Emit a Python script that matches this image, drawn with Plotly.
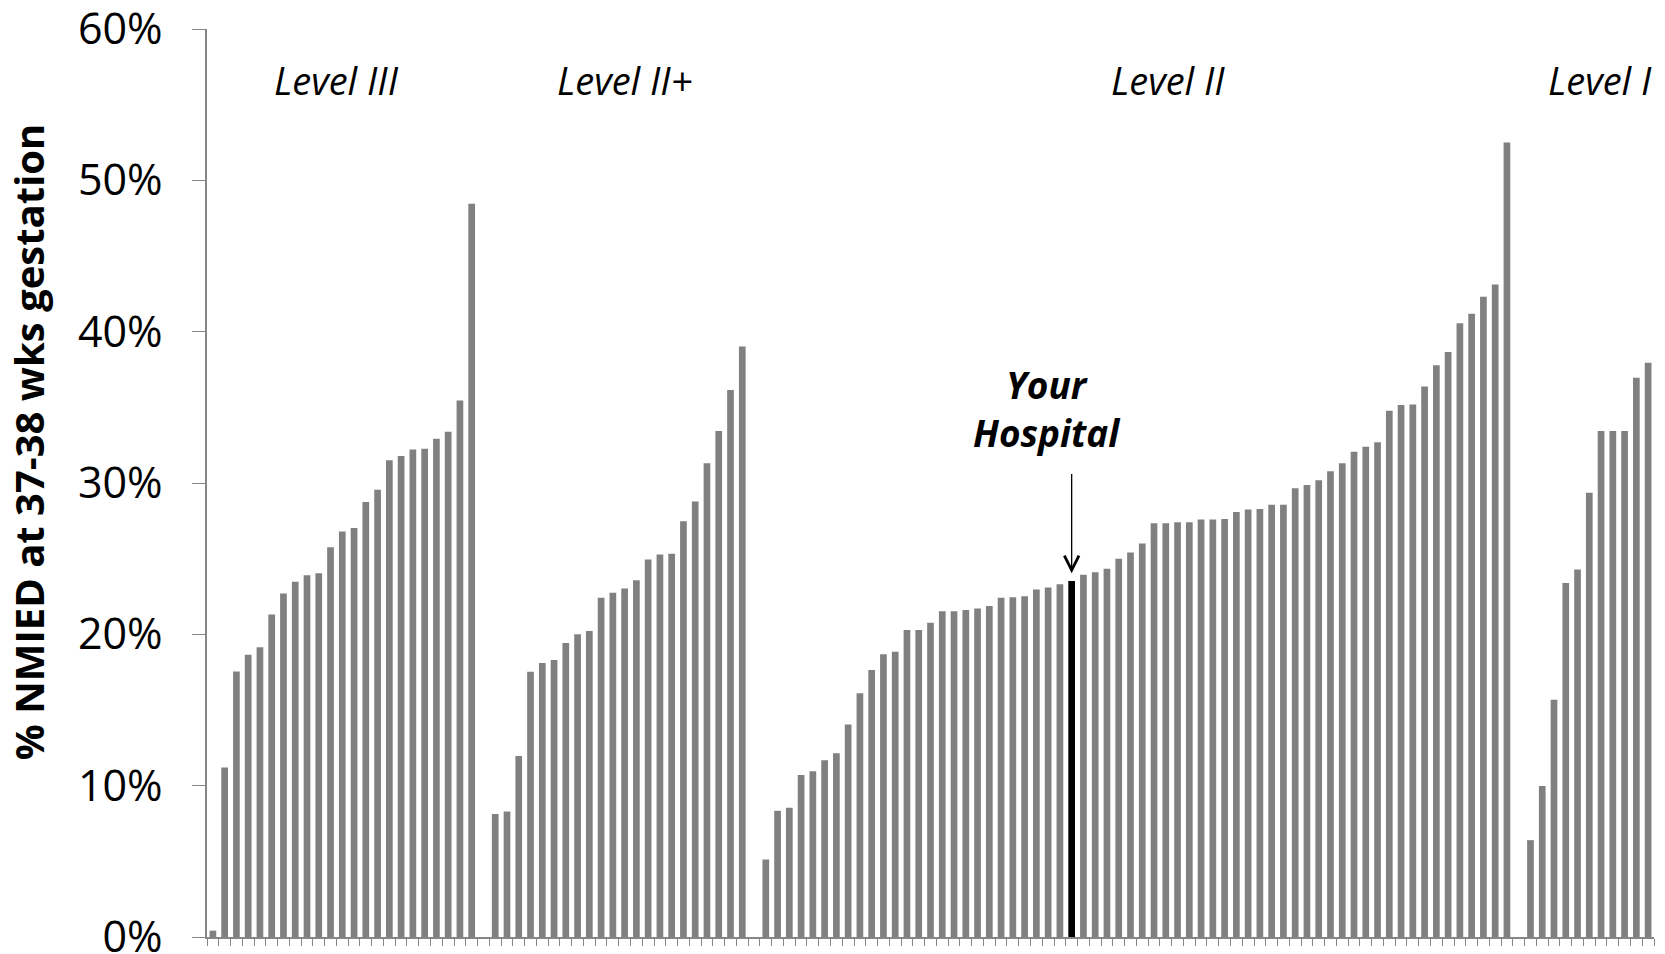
import plotly.graph_objects as go

# Values (fraction of deliveries), sorted within each hospital level
level3 = [0.0042, 0.112, 0.1755, 0.1865, 0.1914, 0.2131, 0.227, 0.2348, 0.239, 0.2403,
          0.2575, 0.2679, 0.2702, 0.2874, 0.2955, 0.315, 0.3179, 0.3221, 0.3227, 0.3292,
          0.3338, 0.3545, 0.4846]
level2plus = [0.0813, 0.0829, 0.1196, 0.1752, 0.181, 0.183, 0.1943, 0.2001, 0.2022, 0.2242,
              0.2274, 0.2303, 0.2358, 0.2494, 0.2528, 0.2533, 0.2748, 0.2877, 0.3131, 0.3344,
              0.3614, 0.3902]
level2_before = [0.0512, 0.0834, 0.0854, 0.1071, 0.1095, 0.1168, 0.1214, 0.1404, 0.1611, 0.1764,
                 0.1868, 0.1885, 0.2029, 0.2029, 0.2077, 0.2152, 0.2152, 0.2161, 0.217, 0.2188,
                 0.2241, 0.2245, 0.2252, 0.2296, 0.2309, 0.2331]
your_hospital = 0.2353
level2_after = [0.2394, 0.2411, 0.2433, 0.2499, 0.2541, 0.2601, 0.2734, 0.2734, 0.2741, 0.2741,
                0.2758, 0.2758, 0.2762, 0.2808, 0.2825, 0.2829, 0.2857, 0.2857, 0.2965, 0.2986,
                0.3018, 0.3077, 0.313, 0.3207, 0.3239, 0.327, 0.3477, 0.3516, 0.3519, 0.3638,
                0.3778, 0.3866, 0.4055, 0.4118, 0.4231, 0.4311, 0.525]
level1 = [0.064, 0.0997, 0.1568, 0.2339, 0.2429, 0.2935, 0.3344, 0.3344, 0.3344, 0.3695, 0.3795]

group_names = ["Level III", "Level II+", "Level II", "Level I"]
y_ticks = [0, 0.1, 0.2, 0.3, 0.4, 0.5, 0.6]
y_title = "% NMIED at 37-38 wks gestation"
hospital_label = "<i><b>Your<br>Hospital</b></i>"

# Build category positions: one empty category between groups
level2 = level2_before + [your_hospital] + level2_after
groups = [level3, level2plus, level2, level1]
xs, ys, colors = [], [], []
pos = 0
your_x = None
for gi, g in enumerate(groups):
    if gi > 0:
        pos += 1  # empty category between groups
    for j, v in enumerate(g):
        xs.append(pos)
        ys.append(v)
        if gi == 2 and j == len(level2_before):
            colors.append("#000000")
            your_x = pos
        else:
            colors.append("#808080")
        pos += 1
last = pos - 1

fig = go.Figure()
fig.add_trace(go.Bar(x=xs, y=ys, marker=dict(color=colors, line=dict(width=0)),
                     width=0.57, hoverinfo="y"))

font_main = "Open Sans, DejaVu Sans, sans-serif"

# Group labels (positions)
label_x = [10.55, 34.96, 81.2, 117.95]
for name, lx in zip(group_names, label_x):
    fig.add_annotation(x=lx, y=0.566, xref="x", yref="y", text=f"<i>{name}</i>",
                       showarrow=False, font=dict(family=font_main, size=38, color="#000"),
                       xanchor="center", yanchor="middle")

# Your Hospital label
fig.add_annotation(x=70.93, y=0.349, xref="x", yref="y", text=hospital_label,
                   showarrow=False, font=dict(family=font_main, size=37, color="#000"),
                   xanchor="center", yanchor="middle")
# Arrow
fig.add_annotation(x=your_x, y=your_hospital + 0.005, xref="x", yref="y",
                   ax=your_x, ay=0.307, axref="x", ayref="y", text="",
                   showarrow=True, arrowhead=5, arrowsize=2.2, arrowwidth=1.3,
                   arrowcolor="#000")

# Y axis title
fig.add_annotation(x=-0.1237, y=0.545, xref="paper", yref="paper", text=f"<b>{y_title}</b>",
                   textangle=-90, showarrow=False,
                   font=dict(family=font_main, size=40, color="#000"),
                   xanchor="center", yanchor="middle")

fig.update_layout(
    width=1665, height=954,
    margin=dict(l=207, r=11, t=29, b=17),
    paper_bgcolor="white", plot_bgcolor="white",
    showlegend=False,
    bargap=0.43,
    xaxis=dict(range=[-0.5, last + 0.5], showgrid=False, zeroline=False, automargin=False,
               showline=True, linecolor="#868686", linewidth=1.5,
               tickmode="array", tickvals=[i - 0.5 for i in range(last + 2)],
               ticks="outside", ticklen=7, tickcolor="#868686", tickwidth=1.3,
               showticklabels=False),
    yaxis=dict(range=[0, 0.6], tickvals=y_ticks, tickformat=".0%", showgrid=False,
               zeroline=False, showline=True, linecolor="#868686", linewidth=1.5,
               automargin=False, ticklabeloverflow="allow",
               ticks="outside", ticklen=13, tickcolor="#868686", tickwidth=1.3,
               ticklabelstandoff=21,
               tickfont=dict(family=font_main, size=43, color="#000")),
)

fig.write_html("out.html", config={"displayModeBar": False},
               post_script="document.body.style.margin='0';document.body.style.overflow='hidden';")
